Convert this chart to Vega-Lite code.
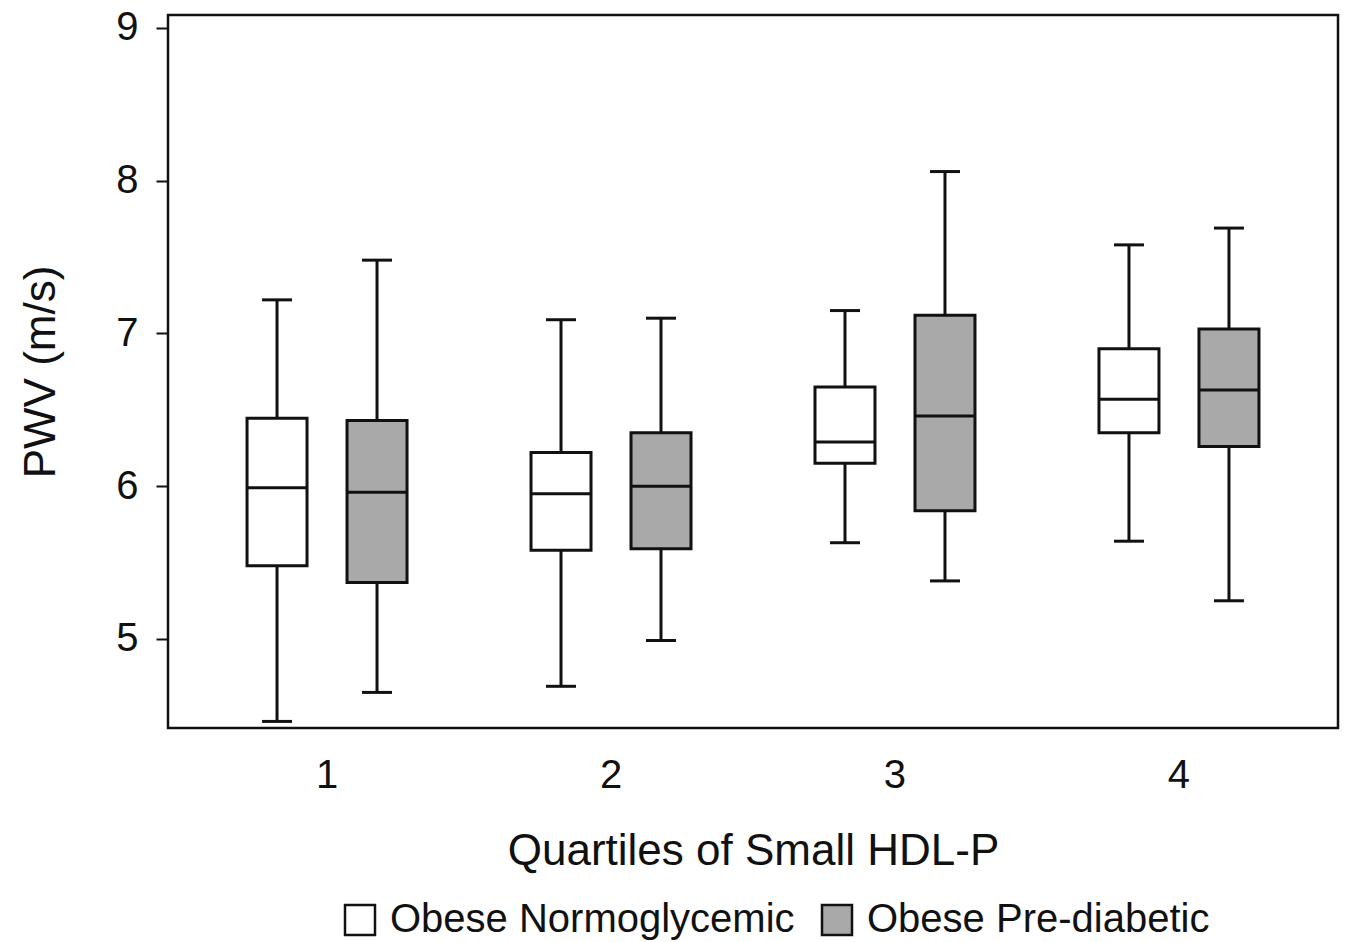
{
  "$schema": "https://vega.github.io/schema/vega-lite/v6.json",
  "width": 1170,
  "height": 713,
  "autosize": {"type": "none"},
  "padding": {"left": 168, "top": 15, "right": 9, "bottom": 214},
  "background": "white",
  "config": {
    "font": "Liberation Sans",
    "view": {"stroke": "#111111", "strokeWidth": 2.5},
    "axis": {"labelColor": "#111111", "titleColor": "#111111", "titleFontWeight": "normal", "grid": false, "domain": false}
  },
  "data": {
    "values": [
      {"quartile": "1", "group": "Obese Normoglycemic", "lower": 4.46, "q1": 5.48, "median": 5.99, "q3": 6.445, "upper": 7.22},
      {"quartile": "1", "group": "Obese Pre-diabetic", "lower": 4.65, "q1": 5.37, "median": 5.96, "q3": 6.43, "upper": 7.48},
      {"quartile": "2", "group": "Obese Normoglycemic", "lower": 4.69, "q1": 5.58, "median": 5.95, "q3": 6.22, "upper": 7.09},
      {"quartile": "2", "group": "Obese Pre-diabetic", "lower": 4.99, "q1": 5.59, "median": 6.0, "q3": 6.35, "upper": 7.10},
      {"quartile": "3", "group": "Obese Normoglycemic", "lower": 5.63, "q1": 6.15, "median": 6.29, "q3": 6.65, "upper": 7.15},
      {"quartile": "3", "group": "Obese Pre-diabetic", "lower": 5.38, "q1": 5.84, "median": 6.46, "q3": 7.12, "upper": 8.06},
      {"quartile": "4", "group": "Obese Normoglycemic", "lower": 5.64, "q1": 6.35, "median": 6.57, "q3": 6.90, "upper": 7.58},
      {"quartile": "4", "group": "Obese Pre-diabetic", "lower": 5.25, "q1": 6.26, "median": 6.63, "q3": 7.03, "upper": 7.69}
    ]
  },
  "encoding": {
    "x": {
      "field": "quartile", "type": "nominal",
      "scale": {"paddingInner": 0, "paddingOuter": 0.06},
      "axis": {"title": "Quartiles of Small HDL-P", "labelAngle": 0, "ticks": false, "labelFontSize": 40, "labelPadding": 27, "titleFontSize": 44, "titlePadding": 34}
    },
    "xOffset": {
      "field": "group", "type": "nominal",
      "scale": {"paddingInner": 0.4, "paddingOuter": 0.62}
    }
  },
  "layer": [
    {
      "mark": {"type": "rule", "color": "#111111", "strokeWidth": 3},
      "encoding": {
        "y": {"field": "lower", "type": "quantitative",
          "scale": {"domain": [4.417, 9.085], "nice": false, "zero": false},
          "axis": {"title": "PWV (m/s)", "values": [5, 6, 7, 8, 9], "format": "d", "tickSize": 12, "tickWidth": 2, "tickColor": "#111111", "labelFontSize": 40, "labelPadding": 18, "titleFontSize": 44, "titlePadding": 52}},
        "y2": {"field": "upper"}
      }
    },
    {
      "mark": {"type": "tick", "color": "#111111", "opacity": 1, "thickness": 3, "size": 30},
      "encoding": {"y": {"field": "lower", "type": "quantitative"}}
    },
    {
      "mark": {"type": "tick", "color": "#111111", "opacity": 1, "thickness": 3, "size": 30},
      "encoding": {"y": {"field": "upper", "type": "quantitative"}}
    },
    {
      "mark": {"type": "bar", "stroke": "#111111", "strokeWidth": 3, "opacity": 1},
      "encoding": {
        "y": {"field": "q1", "type": "quantitative"},
        "y2": {"field": "q3"},
        "fill": {
          "field": "group", "type": "nominal",
          "scale": {"domain": ["Obese Normoglycemic", "Obese Pre-diabetic"], "range": ["#ffffff", "#a9a9a9"]},
          "legend": {
            "title": null, "orient": "none", "direction": "horizontal",
            "legendX": 172, "legendY": 885,
            "symbolType": "square", "symbolSize": 900, "symbolStrokeColor": "#111111", "symbolStrokeWidth": 2.5, "symbolOpacity": 1,
            "labelFontSize": 40, "labelColor": "#111111", "labelOffset": 10, "columnPadding": 22, "labelLimit": 600
          }
        }
      }
    },
    {
      "mark": {"type": "tick", "color": "#111111", "opacity": 1, "thickness": 3, "size": 60},
      "encoding": {"y": {"field": "median", "type": "quantitative"}}
    }
  ]
}
